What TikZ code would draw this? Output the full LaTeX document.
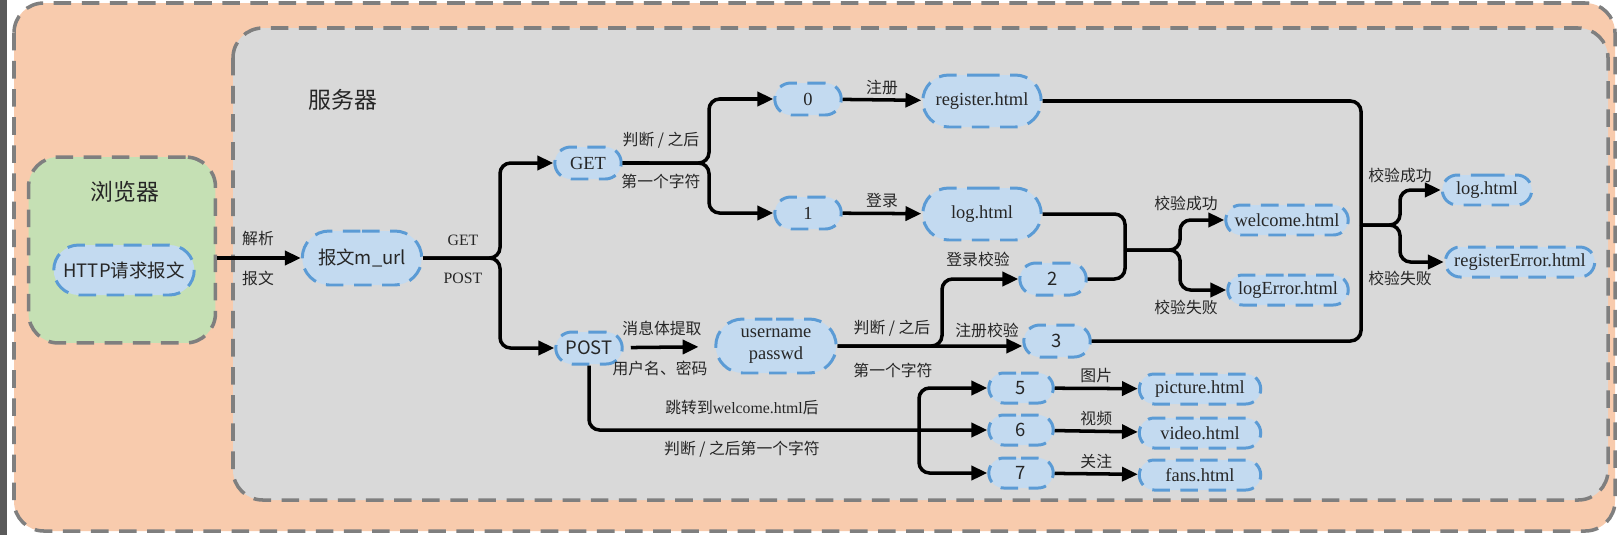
\documentclass[tikz,border=0pt]{standalone}
\usepackage{fontspec}
\setmainfont{Liberation Serif}
\newfontfamily\cjk{Noto Sans CJK SC}
\usepackage{tikz}
\usetikzlibrary{arrows.meta,shapes.misc,positioning}
\definecolor{peach}{HTML}{F8CBAD}
\definecolor{ltgray}{HTML}{D9D9D9}
\definecolor{ltgreen}{HTML}{C5E0B4}
\definecolor{ltblue}{HTML}{C3DAF0}
\definecolor{dblue}{HTML}{5B9BD5}
\definecolor{dashgray}{HTML}{7F7F7F}
\definecolor{edgegray}{HTML}{5A5A5A}
\definecolor{txt}{HTML}{262626}
\tikzstyle{area}=[draw=dashgray, line width=2pt, dash pattern=on 10pt off 6pt, rounded corners=17pt]
\tikzstyle{blob}=[rounded rectangle, draw=dblue, fill=ltblue, line width=1.7pt, dash pattern=on 10pt off 6pt, inner sep=1pt, text=txt, font=\fontsize{10.5}{12.5}\selectfont]
\tikzstyle{bigbox}=[blob, minimum width=2.44cm, minimum height=1.04cm]
\tikzstyle{numbox}=[blob, minimum width=1.4cm, minimum height=0.64cm]
\tikzstyle{pagebox}=[blob, minimum height=0.6cm]
\tikzstyle{sansnum}=[font=\cjk\fontsize{10.5}{12.5}\selectfont]
\tikzstyle{flow}=[line width=2pt, rounded corners=6pt, -{Triangle[length=9pt,width=8pt]}]
\tikzstyle{wire}=[line width=2pt, rounded corners=6pt]
\tikzstyle{lbl}=[font=\cjk\fontsize{9}{11}\selectfont, text=txt, inner sep=2pt]
\tikzstyle{tag}=[font=\fontsize{9}{11}\selectfont, text=txt]
\tikzstyle{heading}=[font=\cjk\fontsize{13}{15}\selectfont, text=txt]

\begin{document}
\begin{tikzpicture}[x=0.02cm, y=-0.02cm]
\useasboundingbox (0,0) rectangle (1618,535);
\fill[white] (0,0) rectangle (1618,535);
\fill[edgegray] (0,0) rectangle (7,535);

% frames
\draw[area, fill=peach] (14,3) rectangle (1615,531);
\draw[area, fill=ltgray] (233,28) rectangle (1608,500);
\node[area, fill=ltgreen, minimum width=3.74cm, minimum height=3.72cm] (browser) at (122,250) {};

% browser
\node[heading] (browserTitle) at (125,192) {浏览器};
\node[bigbox, minimum width=2.88cm, minimum height=1cm, font=\cjk\fontsize{10.5}{12.5}\selectfont] (http) at (124,270) {HTTP请求报文};

% server
\node[heading] (serverTitle) at (343,100) {服务器};
\node[bigbox, minimum width=2.46cm, minimum height=1.08cm, font=\cjk\fontsize{10.5}{12.5}\selectfont] (murl) at (362,258) {报文m\_url};
\draw[flow] (browser.east |- murl) -- (murl);
\node[lbl] (parseA) at (258,238) {解析};
\node[lbl] (parseB) at (258,278) {报文};

% GET / POST
\node[numbox] (get) at (588,163) {GET};
\node[numbox, sansnum] (post) at (589,348) {POST};
\coordinate (split1) at (500,258);
\draw[flow] (murl) -- (split1) |- (get);
\draw[flow] (murl) -- (split1) |- (post);
\node[tag] (tagGet) at (463,240) {GET};
\node[tag] (tagPost) at (463,278) {POST};

% 0 / 1
\node[numbox] (n0) at (808,99) {0};
\node[numbox] (n1) at (808,213) {1};
\coordinate (split2) at (709,163);
\draw[flow] (get) -- (split2) |- (n0);
\draw[flow] (get) -- (split2) |- (n1);
\node[lbl] (cutA) at (661,140) {判断 / 之后};
\node[lbl] (cutB) at (661,181) {第一个字符};

\node[bigbox] (reg) at (982,101) {register.html};
\node[bigbox] (logp) at (982,214) {log.html};
\draw[flow] (n0) -- node[lbl, above] (lblReg) {注册} (reg);
\draw[flow] (n1) -- node[lbl, above] (lblLog) {登录} (logp);

% POST -> username
\node[bigbox, minimum width=2.48cm, minimum height=1.08cm, align=center] (user) at (776,346) {username\\passwd};
\draw[flow, shorten <=4pt, shorten >=9pt] (post) -- (user);
\node[lbl] (lblBody) at (662,328) {消息体提取};
\node[lbl] (lblUser) at (660,368) {用户名、密码};

\node[numbox, sansnum] (n2) at (1053,279) {2};
\node[numbox, sansnum] (n3) at (1057,341) {3};
\coordinate (split3) at (942,346);
\draw[flow] (user) -- (split3) |- (n2);
\draw[flow] (user) -- (user -| n3.west);
\node[lbl] (cutC) at (892,328) {判断 / 之后};
\node[lbl] (cutD) at (893,370) {第一个字符};
\node[lbl] (chkLog) at (978,259) {登录校验};
\node[lbl] (chkReg) at (987,330) {注册校验};

% login check
\node[pagebox, minimum width=2.52cm] (welcome) at (1287,220) {welcome.html};
\node[pagebox, minimum width=2.48cm] (logerr) at (1288,290) {logError.html};
\coordinate (join1) at (1125,250);
\coordinate (split4) at (1180,250);
\draw[wire] (logp) -| (join1);
\draw[wire] (n2) -| (join1);
\draw[flow] (join1) -- (split4) |- (welcome);
\draw[flow] (join1) -- (split4) |- (logerr);
\node[lbl] (okA) at (1186,203) {校验成功};
\node[lbl] (failA) at (1186,307) {校验失败};

% register check
\node[pagebox, minimum width=1.86cm] (logok) at (1487,190) {log.html};
\node[pagebox, minimum width=3.06cm] (regerr) at (1520,262) {registerError.html};
\coordinate (join2) at (1361,225);
\coordinate (split5) at (1400,225);
\draw[wire] (reg) -| (join2);
\draw[wire] (n3) -| (join2);
\draw[flow] (join2) -- (split5) |- (logok);
\draw[flow] (join2) -- (split5) |- (regerr);
\node[lbl] (okB) at (1400,175) {校验成功};
\node[lbl] (failB) at (1400,278) {校验失败};

% after welcome
\node[numbox, sansnum, minimum width=1.36cm, minimum height=0.6cm] (n5) at (1021,388) {5};
\node[numbox, sansnum, minimum width=1.36cm, minimum height=0.6cm] (n6) at (1021,430) {6};
\node[numbox, sansnum, minimum width=1.36cm, minimum height=0.6cm] (n7) at (1021,473) {7};
\coordinate (bus) at (919,430);
\draw[flow] (post) |- (n6);
\draw[flow] (bus) |- (n5);
\draw[flow] (bus) |- (n7);
\node[lbl] (jumpA) at (742,407) {跳转到{\fontspec{Liberation Serif}welcome.html}后};
\node[lbl] (jumpB) at (742,449) {判断 / 之后第一个字符};

\node[pagebox, minimum width=2.5cm] (pic) at (1200,389) {picture.html};
\node[pagebox, minimum width=2.5cm] (video) at (1200,433) {video.html};
\node[pagebox, minimum width=2.5cm] (fans) at (1200,475) {fans.html};
\draw[flow] (n5) -- node[lbl, above] (lblPic) {图片} (pic);
\draw[flow] (n6) -- node[lbl, above] (lblVideo) {视频} (video);
\draw[flow] (n7) -- node[lbl, above] (lblFans) {关注} (fans);

\end{tikzpicture}
\end{document}
